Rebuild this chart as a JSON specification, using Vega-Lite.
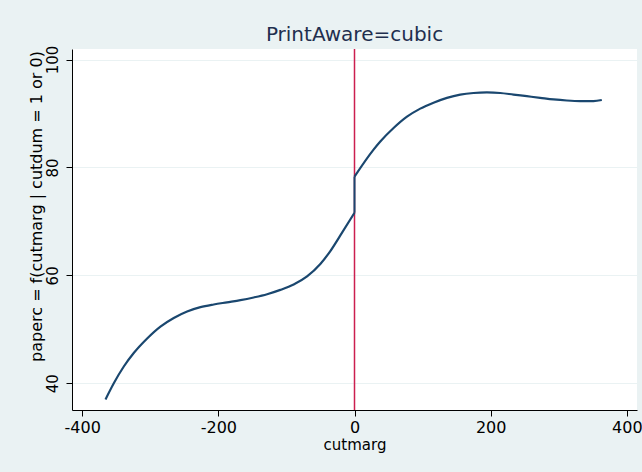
{
  "$schema": "https://vega.github.io/schema/vega-lite/v6.json",
  "width": 565,
  "height": 361,
  "autosize": {"type": "none"},
  "padding": {"left": 72, "top": 49, "right": 5, "bottom": 62},
  "background": "#eaf2f3",
  "config": {
    "font": "DejaVu Sans",
    "view": {"fill": "white", "stroke": null}
  },
  "title": {
    "text": "PrintAware=cubic",
    "fontSize": 20,
    "fontWeight": "normal",
    "color": "#1f2f4f",
    "anchor": "middle",
    "frame": "group",
    "baseline": "alphabetic",
    "offset": 7,
    "dy": 23
  },
  "datasets": {
    "fit": [
      {"cutmarg": -365.8, "paperc": 37.0, "side": "below"},
      {"cutmarg": -353.6, "paperc": 40.0, "side": "below"},
      {"cutmarg": -338.9, "paperc": 43.1, "side": "below"},
      {"cutmarg": -324.3, "paperc": 45.6, "side": "below"},
      {"cutmarg": -304.6, "paperc": 48.3, "side": "below"},
      {"cutmarg": -285.1, "paperc": 50.5, "side": "below"},
      {"cutmarg": -265.5, "paperc": 52.1, "side": "below"},
      {"cutmarg": -245.9, "paperc": 53.3, "side": "below"},
      {"cutmarg": -226.3, "paperc": 54.1, "side": "below"},
      {"cutmarg": -206.8, "paperc": 54.6, "side": "below"},
      {"cutmarg": -187.2, "paperc": 55.0, "side": "below"},
      {"cutmarg": -167.6, "paperc": 55.4, "side": "below"},
      {"cutmarg": -148.1, "paperc": 55.9, "side": "below"},
      {"cutmarg": -128.4, "paperc": 56.5, "side": "below"},
      {"cutmarg": -108.9, "paperc": 57.3, "side": "below"},
      {"cutmarg": -89.4, "paperc": 58.3, "side": "below"},
      {"cutmarg": -69.7, "paperc": 59.8, "side": "below"},
      {"cutmarg": -50.2, "paperc": 62.1, "side": "below"},
      {"cutmarg": -35.5, "paperc": 64.5, "side": "below"},
      {"cutmarg": -20.8, "paperc": 67.4, "side": "below"},
      {"cutmarg": 0.0, "paperc": 71.6, "side": "below"},
      {"cutmarg": 0.0, "paperc": 78.3, "side": "above"},
      {"cutmarg": 28.0, "paperc": 83.3, "side": "above"},
      {"cutmarg": 37.9, "paperc": 84.8, "side": "above"},
      {"cutmarg": 57.4, "paperc": 87.3, "side": "above"},
      {"cutmarg": 77.1, "paperc": 89.4, "side": "above"},
      {"cutmarg": 96.6, "paperc": 90.9, "side": "above"},
      {"cutmarg": 116.1, "paperc": 92.0, "side": "above"},
      {"cutmarg": 135.8, "paperc": 92.9, "side": "above"},
      {"cutmarg": 155.3, "paperc": 93.5, "side": "above"},
      {"cutmarg": 174.8, "paperc": 93.8, "side": "above"},
      {"cutmarg": 194.5, "paperc": 93.9, "side": "above"},
      {"cutmarg": 214.0, "paperc": 93.8, "side": "above"},
      {"cutmarg": 233.5, "paperc": 93.5, "side": "above"},
      {"cutmarg": 253.2, "paperc": 93.2, "side": "above"},
      {"cutmarg": 272.7, "paperc": 92.9, "side": "above"},
      {"cutmarg": 292.3, "paperc": 92.6, "side": "above"},
      {"cutmarg": 311.9, "paperc": 92.4, "side": "above"},
      {"cutmarg": 331.5, "paperc": 92.3, "side": "above"},
      {"cutmarg": 351.0, "paperc": 92.3, "side": "above"},
      {"cutmarg": 363.3, "paperc": 92.5, "side": "above"}
    ],
    "cutoff": [{"cutmarg": 0}],
    "gap": [{"cutmarg": 0, "left_limit": 71.6, "right_limit": 78.3}]
  },
  "layer": [
    {
      "data": {"name": "cutoff"},
      "mark": {"type": "rule", "color": "#cc1f4f", "strokeWidth": 1.5},
      "encoding": {
        "x": {"field": "cutmarg", "type": "quantitative"}
      }
    },
    {
      "data": {"name": "gap"},
      "mark": {"type": "rule", "color": "#1a476f", "strokeWidth": 2},
      "encoding": {
        "x": {"field": "cutmarg", "type": "quantitative"},
        "y": {"field": "left_limit", "type": "quantitative"},
        "y2": {"field": "right_limit"}
      }
    },
    {
      "data": {"name": "fit"},
      "mark": {"type": "line", "color": "#1a476f", "strokeWidth": 2.2, "interpolate": "monotone"},
      "encoding": {
        "x": {
          "field": "cutmarg",
          "type": "quantitative",
          "scale": {"domain": [-415, 415], "nice": false, "zero": false},
          "axis": {
            "title": "cutmarg",
            "values": [-400, -200, 0, 200, 400],
            "labelExpr": "datum.value + ''",
            "grid": false,
            "domainColor": "black",
            "tickColor": "black",
            "tickSize": 6,
            "labelFontSize": 16,
            "labelColor": "black",
            "labelPadding": 3,
            "labelFlush": false,
            "titleFontSize": 15,
            "titleFontWeight": "normal",
            "titleColor": "black",
            "titlePadding": 2
          }
        },
        "y": {
          "field": "paperc",
          "type": "quantitative",
          "scale": {"domain": [35.04, 101.95], "nice": false, "zero": false},
          "axis": {
            "title": "paperc = f(cutmarg | cutdum = 1 or 0)",
            "values": [40, 60, 80, 100],
            "grid": true,
            "gridColor": "#eaf2f3",
            "gridWidth": 1,
            "domainColor": "black",
            "tickColor": "black",
            "tickSize": 6,
            "labelFontSize": 15,
            "labelColor": "black",
            "labelAngle": -90,
            "labelAlign": "center",
            "labelBaseline": "bottom",
            "labelPadding": 6,
            "labelFlush": false,
            "titleFontSize": 16,
            "titleFontWeight": "normal",
            "titleColor": "black",
            "titleX": -28,
            "titleY": 157,
            "titleAlign": "center",
            "titleBaseline": "bottom"
          }
        },
        "detail": {"field": "side", "type": "nominal"}
      }
    }
  ]
}
